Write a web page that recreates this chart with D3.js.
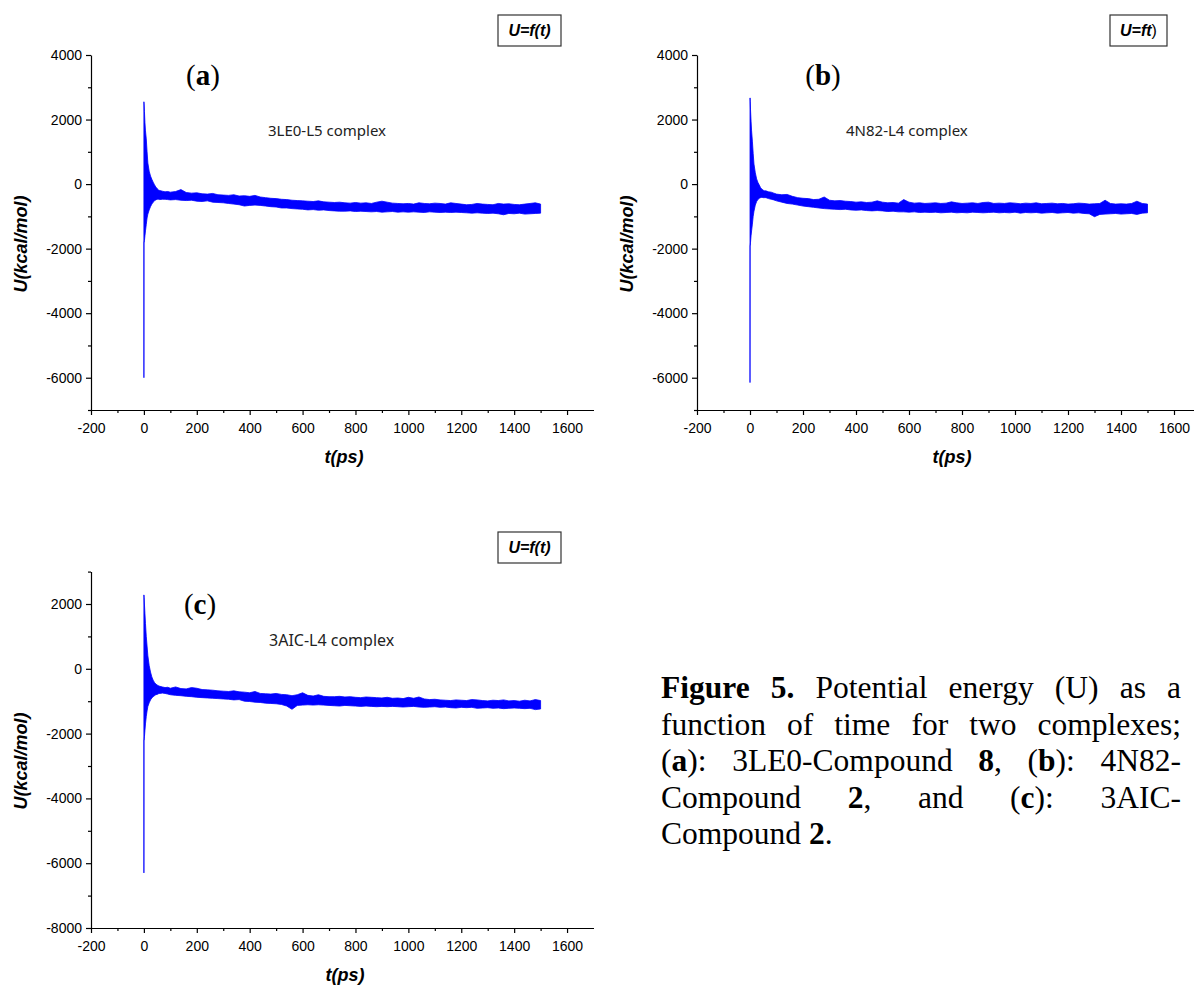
<!DOCTYPE html>
<html><head><meta charset="utf-8">
<script src="https://cdn.jsdelivr.net/npm/d3@7"></script>
<style>body{margin:0;background:#fff}svg{display:block}</style>
</head><body>
<svg id="chart" width="1194" height="987"></svg>
<script>
// ---------- data ----------
const tGrid = [0,0.3,1,2,4,6,9,12,15,20,25,30,35,40,45,50,55,60,70,80,90,100,
 120,140,160,180,200,220,240,260,280,300,320,340,360,380,400,420,440,460,480,500,
 520,540,560,580,600,620,640,660,680,700,720,740,760,780,800,820,840,860,880,900,
 920,940,960,980,1000,1020,1040,1060,1080,1100,1120,1140,1160,1180,1200,1220,1240,1260,1280,1300,
 1320,1340,1360,1380,1400,1420,1440,1460,1480,1500];

// panel (a) 3LE0-L5 : upper / lower envelope of U (kcal/mol)
const upperA = [2550,2550,2450,2250,1900,1650,1400,1000,650,400,250,150,60,-20,-90,-140,-180,-200,-220,-240,-230,-250,
 -230,-170,-260,-280,-270,-300,-310,-290,-330,-340,-350,-330,-370,-360,-380,-350,-400,-420,-440,-450,
 -470,-480,-500,-510,-520,-530,-540,-520,-550,-560,-570,-560,-580,-590,-570,-590,-580,-600,-560,-530,
 -560,-590,-600,-610,-600,-620,-580,-600,-610,-590,-600,-620,-580,-600,-620,-640,-630,-600,-620,-630,
 -640,-600,-620,-610,-630,-640,-620,-600,-580,-620];
const lowerA = [-6000,-1800,-1800,-1750,-1600,-1450,-1250,-1050,-930,-800,-700,-620,-560,-520,-490,-470,-470,-480,-470,-470,-480,-490,
 -480,-500,-510,-500,-530,-540,-520,-560,-570,-580,-600,-620,-640,-680,-660,-650,-660,-680,-700,-710,
 -740,-740,-760,-770,-780,-800,-790,-810,-800,-820,-830,-840,-840,-830,-850,-840,-850,-860,-850,-870,
 -860,-850,-870,-860,-870,-860,-870,-880,-860,-870,-880,-870,-880,-870,-880,-890,-900,-890,-900,-910,
 -900,-920,-950,-910,-920,-900,-930,-920,-910,-900];

// panel (b) 4N82-L4
const upperB = [2670,2670,2550,2300,1950,1650,1330,950,620,350,160,50,-30,-110,-160,-190,-210,-210,-240,-250,-280,-310,
 -330,-320,-380,-420,-440,-450,-480,-470,-400,-500,-520,-510,-530,-540,-560,-550,-570,-560,-520,-560,
 -580,-570,-590,-480,-560,-590,-580,-600,-590,-580,-600,-590,-550,-580,-600,-590,-580,-600,-570,-560,
 -600,-590,-600,-580,-590,-610,-590,-600,-580,-610,-600,-590,-610,-600,-620,-610,-590,-600,-620,-610,
 -600,-500,-600,-620,-610,-620,-600,-530,-600,-620];
const lowerB = [-6150,-1900,-1900,-1800,-1600,-1450,-1240,-1000,-840,-650,-540,-475,-440,-420,-410,-420,-420,-420,-450,-470,-490,-520,
 -560,-600,-620,-650,-680,-700,-720,-740,-760,-770,-780,-790,-780,-800,-810,-800,-820,-830,-820,-830,
 -850,-840,-860,-860,-870,-860,-880,-870,-880,-870,-890,-880,-870,-890,-880,-890,-870,-880,-890,-880,
 -870,-890,-880,-890,-870,-900,-880,-890,-880,-900,-890,-880,-900,-890,-880,-900,-890,-910,-920,-1010,
 -940,-930,-920,-910,-930,-920,-910,-940,-900,-890];

// panel (c) 3AIC-L4
const upperC = [2280,2280,2200,2000,1700,1400,1000,700,400,100,-100,-250,-350,-420,-470,-500,-520,-540,-560,-580,-570,-600,
 -560,-610,-620,-580,-600,-640,-650,-660,-680,-690,-700,-680,-710,-720,-740,-700,-760,-770,-780,-760,
 -790,-800,-830,-800,-740,-820,-840,-800,-850,-860,-860,-850,-870,-860,-880,-890,-870,-880,-890,-900,
 -880,-910,-900,-920,-880,-910,-870,-930,-950,-940,-960,-970,-980,-960,-970,-980,-950,-960,-980,-990,
 -970,-980,-960,-990,-980,-1000,-970,-990,-950,-980];
const lowerC = [-6300,-2200,-2200,-2100,-1900,-1700,-1470,-1300,-1160,-1050,-960,-900,-860,-830,-800,-790,-770,-760,-750,-760,-780,-800,
 -820,-830,-850,-860,-880,-890,-900,-910,-920,-930,-940,-960,-950,-1000,-1010,-1030,-1040,-1060,-1070,-1080,
 -1100,-1150,-1250,-1130,-1120,-1110,-1120,-1110,-1120,-1130,-1140,-1150,-1130,-1140,-1150,-1160,-1150,-1160,-1170,-1160,
 -1170,-1160,-1170,-1180,-1170,-1160,-1180,-1190,-1180,-1170,-1190,-1180,-1200,-1210,-1190,-1200,-1190,-1220,-1210,-1200,
 -1220,-1210,-1230,-1220,-1210,-1220,-1230,-1220,-1260,-1240];

const xTickValues = [-200,0,200,400,600,800,1000,1200,1400,1600];
const xMinorValues = [-100,100,300,500,700,900,1100,1300,1500];
const yTicksAB = [-6000,-4000,-2000,0,2000,4000];
const yMinorAB = [-7000,-5000,-3000,-1000,1000,3000];
const yTicksC = [-8000,-6000,-4000,-2000,0,2000];
const yMinorC = [-7000,-5000,-3000,-1000,1000,3000];
const panelLetters = ["a","b","c"];
const complexNames = ["3LE0-L5 complex","4N82-L4 complex","3AIC-L4 complex"];
const xTitle = "t(ps)";
const yTitle = "U(kcal/mol)";

const captionLines = [
 "**Figure** **5.** Potential energy (U) as a",
 "function of time for two complexes;",
 "(**a**): 3LE0-Compound **8**, (**b**): 4N82-",
 "Compound **2**, and (**c**): 3AIC-",
 "Compound **2**."
];

// ---------- layout ----------
const svg = d3.select("#chart");
const panels = [
 {up: upperA, lo: lowerA, yDom: [-7000,4000], yT: yTicksAB, yM: yMinorAB,
  xr: [91, 593.5], yr: [410, 55], letterX: 203, letterY: 85, nameX: 268, nameY: 136, nameSize: 15,
  box: [498, 15, 63, 31], legend: "full", xTitleX: 344, xTitleY: 463, yTitleX: 21, yTitleY: 244},
 {up: upperB, lo: lowerB, yDom: [-7000,4000], yT: yTicksAB, yM: yMinorAB,
  xr: [697, 1200.5], yr: [410, 55], letterX: 823, letterY: 85, nameX: 846, nameY: 136, nameSize: 15,
  box: [1110, 15, 57, 31], legend: "b", xTitleX: 952, xTitleY: 463, yTitleX: 627, yTitleY: 244},
 {up: upperC, lo: lowerC, yDom: [-8000,3000], yT: yTicksC, yM: yMinorC,
  xr: [91, 593.5], yr: [928, 571.6], letterX: 200, letterY: 614, nameX: 269, nameY: 646, nameSize: 16,
  box: [498, 532, 63, 31], legend: "full", xTitleX: 345, xTitleY: 981, yTitleX: 21, yTitleY: 761}
];

const fmt = d => String(d);
const SANS = "'Liberation Sans', Arial, sans-serif";

panels.forEach((p, i) => {
  const x = d3.scaleLinear().domain([-200, 1700]).range(p.xr);
  const y = d3.scaleLinear().domain(p.yDom).range(p.yr);
  const g = svg.append("g");

  const pts = tGrid.map((t, k) => ({t, hi: p.up[k], lo: p.lo[k]}));
  g.append("path").datum(pts)
    .attr("d", d3.area().x(d => x(d.t)).y0(d => y(d.lo)).y1(d => y(d.hi)))
    .attr("fill", "#0000ff").attr("stroke", "#0000ff").attr("stroke-width", 0.8)
    .attr("stroke-linejoin", "round");

  // x axis
  g.append("g").attr("transform", `translate(0,${p.yr[0]})`)
    .call(d3.axisBottom(x).tickValues(xTickValues).tickFormat(fmt).tickSize(5).tickSizeOuter(0).tickPadding(8));
  g.append("g").attr("transform", `translate(0,${p.yr[0]})`)
    .call(d3.axisBottom(x).tickValues(xMinorValues).tickFormat("").tickSize(3).tickSizeOuter(0))
    .select(".domain").remove();
  // y axis
  g.append("g").attr("transform", `translate(${p.xr[0]},0)`)
    .call(d3.axisLeft(y).tickValues(p.yT).tickFormat(fmt).tickSize(5).tickSizeOuter(0).tickPadding(4));
  g.append("g").attr("transform", `translate(${p.xr[0]},0)`)
    .call(d3.axisLeft(y).tickValues(p.yM).tickFormat("").tickSize(3).tickSizeOuter(0))
    .select(".domain").remove();

  g.selectAll(".tick text").attr("font-family", SANS).attr("font-size", 14).attr("fill", "#000");
  g.selectAll(".domain, .tick line").attr("stroke", "#000").attr("stroke-width", 1.2);

  // titles
  g.append("text").attr("x", p.xTitleX).attr("y", p.xTitleY).attr("text-anchor", "middle")
    .attr("font-family", SANS).attr("font-size", 18).attr("font-weight", "bold").attr("font-style", "italic")
    .text(xTitle);
  g.append("text").attr("transform", `translate(${p.yTitleX},${p.yTitleY}) rotate(-90)`)
    .attr("text-anchor", "middle").attr("dy", "0.35em")
    .attr("font-family", SANS).attr("font-size", 18).attr("font-weight", "bold").attr("font-style", "italic")
    .text(yTitle);

  // panel letter
  const lt = g.append("text").attr("x", p.letterX).attr("y", p.letterY).attr("text-anchor", "middle")
    .attr("font-family", "'Liberation Serif', 'Times New Roman', serif").attr("font-size", 29);
  lt.append("tspan").text("(");
  lt.append("tspan").attr("font-weight", "bold").text(panelLetters[i]);
  lt.append("tspan").text(")");

  // complex name
  g.append("text").attr("x", p.nameX).attr("y", p.nameY)
    .attr("font-family", "'Noto Sans', 'Open Sans', sans-serif").attr("font-size", p.nameSize).attr("fill", "#222")
    .text(complexNames[i]);

  // legend box
  const [bx, by, bw, bh] = p.box;
  g.append("rect").attr("x", bx).attr("y", by).attr("width", bw).attr("height", bh)
    .attr("fill", "#fff").attr("stroke", "#333").attr("stroke-width", 1.2);
  const lg = g.append("text").attr("x", bx + bw / 2).attr("y", by + bh / 2).attr("dy", "0.36em")
    .attr("text-anchor", "middle").attr("font-family", SANS).attr("font-size", 16);
  if (p.legend === "full") {
    lg.append("tspan").attr("font-weight", "bold").attr("font-style", "italic").text("U=f(t)");
  } else {
    lg.append("tspan").attr("font-weight", "bold").attr("font-style", "italic").text("U=ft");
    lg.append("tspan").text(")");
  }
});

// ---------- caption (justified) ----------
const capLeft = 661, capRight = 1181, capBase = 698, capLead = 36.6, capSize = 31.5;
const cap = svg.append("g").attr("font-family", "'Liberation Serif', 'Times New Roman', serif")
  .attr("font-size", capSize).attr("fill", "#000");
captionLines.forEach((line, li) => {
  const words = line.split(" ");
  const nodes = words.map(w => {
    const t = cap.append("text").attr("y", capBase + li * capLead);
    w.split("**").forEach((s, k) => {
      if (s) t.append("tspan").attr("font-weight", k % 2 ? "bold" : "normal").text(s);
    });
    return t;
  });
  const widths = nodes.map(n => n.node().getComputedTextLength());
  const total = d3.sum(widths);
  const last = li === captionLines.length - 1;
  const gap = last ? capSize * 0.25 : (capRight - capLeft - total) / (words.length - 1);
  let cx = capLeft;
  nodes.forEach((n, k) => { n.attr("x", cx); cx += widths[k] + gap; });
});
</script>
</body></html>
